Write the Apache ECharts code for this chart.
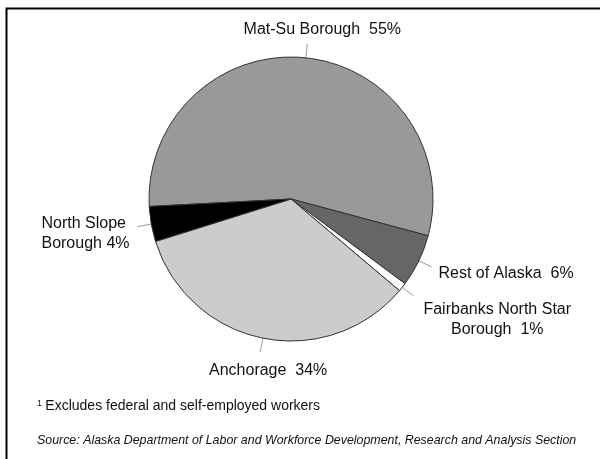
<!DOCTYPE html>
<html><head><meta charset="utf-8">
<script src="https://cdn.jsdelivr.net/npm/echarts@6/dist/echarts.min.js"></script>
<style>html,body{margin:0;padding:0;background:#fff}#c{width:600px;height:459px}</style>
</head><body><div id="c"></div>
<script>
const categories = ['Mat-Su Borough', 'Rest of Alaska', 'Fairbanks North Star Borough', 'Anchorage', 'North Slope Borough'];
const shares = [55, 6, 1, 34, 4];
const labelTexts = ['Mat-Su Borough  55%', 'Rest of Alaska  6%', 'Fairbanks North Star\nBorough  1%', 'Anchorage  34%', 'North Slope\nBorough 4%'];
const sliceColors = ['#999999', '#666666', '#ffffff', '#cccccc', '#000000'];
const footnoteText = 'Excludes federal and self-employed workers';
const sourceText = 'Source: Alaska Department of Labor and Workforce Development, Research and Analysis Section';

// label offsets relative to the end of each leader line
const labelPlacement = [
  { dx: 15, dy: -14, align: 'center' },
  { dx: 7, dy: 7, align: 'left' },
  { dx: 84, dy: 24, align: 'center' },
  { dx: 8, dy: 19, align: 'center' },
  { dx: -96, dy: 7, align: 'left' }
];

const chart = echarts.init(document.getElementById('c'), null, { renderer: 'canvas' });
const FONT = '"Liberation Sans", Arial, sans-serif';

chart.setOption({
  animation: false,
  backgroundColor: '#ffffff',
  graphic: [
    { type: 'rect', shape: { x: 6.5, y: 8.5, width: 700, height: 600 }, style: { fill: null, stroke: '#000', lineWidth: 2 }, silent: true },
    { type: 'text', left: 37, top: 399, style: {
        text: '{s|1} {t|' + footnoteText + '}',
        rich: {
          s: { fontSize: 9, fontFamily: FONT, fill: '#111', verticalAlign: 'top', padding: [0, 0, 5, 0] },
          t: { fontSize: 14, fontFamily: FONT, fill: '#111' }
        } } },
    { type: 'text', left: 37, top: 435, style: { text: sourceText, fontSize: 12.4, fontStyle: 'italic', fontFamily: FONT, fill: '#111' } }
  ],
  series: [{
    type: 'pie',
    center: [291, 199],
    radius: 142,
    startAngle: 183,
    clockwise: true,
    avoidLabelOverlap: false,
    emphasis: { disabled: true },
    itemStyle: { borderColor: '#333333', borderWidth: 1 },
    label: {
      show: true,
      position: 'outside',
      fontSize: 16,
      lineHeight: 20,
      fontFamily: FONT,
      color: '#111',
      formatter: p => labelTexts[p.dataIndex]
    },
    labelLine: { show: true, length: 14, length2: 0, smooth: false, lineStyle: { color: '#999999', width: 1 } },
    labelLayout: function (params) {
      const pts = params.labelLinePoints;
      const pl = labelPlacement[params.dataIndex];
      if (!pts) return {};
      const end = pts[pts.length - 1];
      return { x: end[0] + pl.dx, y: end[1] + pl.dy, align: pl.align, verticalAlign: 'middle', labelLinePoints: pts };
    },
    data: categories.map((name, i) => ({ name: name, value: shares[i], itemStyle: { color: sliceColors[i] } }))
  }]
});
</script></body></html>
